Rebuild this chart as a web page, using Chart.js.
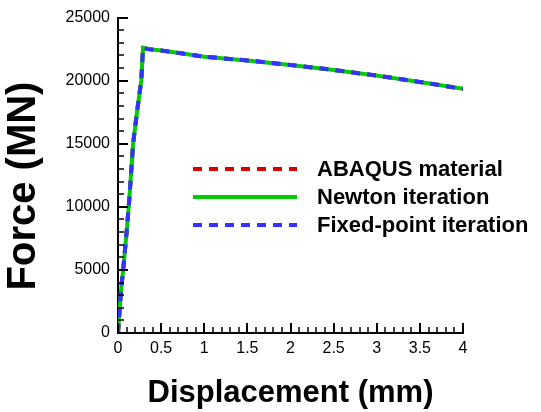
<!DOCTYPE html>
<html><head><meta charset="utf-8">
<script src="https://cdn.jsdelivr.net/npm/chart.js@4/dist/chart.umd.min.js"></script>
<style>html,body{margin:0;padding:0;background:#fff}</style>
</head><body>
<canvas id="c" width="541" height="412"></canvas>
<script>
// Data
const displacement   = [0, 0.035, 0.06, 0.1, 0.13, 0.175, 0.22, 0.27, 0.29, 0.35, 0.5, 0.75, 1.0, 1.5, 2.0, 2.5, 3.0, 3.5, 4.0];
const forceAbaqus    = [0, 3400, 5000, 8000, 10500, 15000, 17500, 20000, 22600, 22500, 22400, 22150, 21900, 21600, 21250, 20850, 20400, 19900, 19350];
const forceNewton    = [0, 3400, 5000, 8000, 10500, 15000, 17500, 20000, 22600, 22500, 22400, 22150, 21900, 21600, 21250, 20850, 20400, 19900, 19350];
const forceFixed     = [0, 3400, 5000, 8000, 10500, 15000, 17500, 20000, 22600, 22500, 22400, 22150, 21900, 21600, 21250, 20850, 20400, 19900, 19350];
const seriesNames    = ['ABAQUS material', 'Newton iteration', 'Fixed-point iteration'];
const xTickLabels    = ['0', '0.5', '1', '1.5', '2', '2.5', '3', '3.5', '4'];
const yTickLabels    = ['0', '5000', '10000', '15000', '20000', '25000'];
const xTitle = 'Displacement (mm)';
const yTitle = 'Force (MN)';

const pts = arr => displacement.map((x, i) => ({x, y: arr[i]}));

const FONT = "'Liberation Sans', Arial, sans-serif";

const innerTicks = {
  id: 'innerTicks',
  afterDraw(chart) {
    const {ctx, scales: {x, y}} = chart;
    ctx.save();
    ctx.strokeStyle = '#000';
    for (let v = 0; v <= 25000; v += 1000) {
      const p = Math.round(y.getPixelForValue(v));
      const major = v % 5000 === 0;
      ctx.lineWidth = major ? 2 : 1.5;
      ctx.beginPath();
      ctx.moveTo(x.left, p);
      ctx.lineTo(x.left + (major ? 10 : 6), p);
      ctx.stroke();
    }
    for (let k = 0; k <= 40; k++) {
      const v = k / 10;
      const p = Math.round(x.getPixelForValue(v));
      const major = k % 5 === 0;
      ctx.lineWidth = major ? 2 : 1.5;
      ctx.beginPath();
      ctx.moveTo(p, y.bottom);
      ctx.lineTo(p, y.bottom - (major ? 10 : 6));
      ctx.stroke();
    }
    ctx.restore();
  }
};

const yAxisTitle = {
  id: 'yAxisTitle',
  afterDraw(chart) {
    const {ctx} = chart;
    ctx.save();
    ctx.translate(24, 186);
    ctx.rotate(-Math.PI / 2);
    ctx.font = "bold 40px " + FONT;
    ctx.textAlign = 'center';
    ctx.textBaseline = 'middle';
    ctx.fillStyle = '#000';
    ctx.fillText(yTitle, 0, 0);
    ctx.restore();
  }
};

const insideLegend = {
  id: 'insideLegend',
  afterDraw(chart) {
    const {ctx} = chart;
    const rows = [169, 197, 225];
    ctx.save();
    ctx.font = "bold 22px " + FONT;
    ctx.textBaseline = 'middle';
    ctx.fillStyle = '#000';
    chart.data.datasets.forEach((ds, i) => {
      const yy = rows[i];
      ctx.strokeStyle = ds.borderColor;
      ctx.lineWidth = ds.borderWidth;
      ctx.setLineDash(ds.borderDash || []);
      ctx.beginPath();
      ctx.moveTo(193, yy);
      ctx.lineTo(297, yy);
      ctx.stroke();
      ctx.setLineDash([]);
      ctx.fillText(ds.label, 317, yy + 1);
    });
    ctx.restore();
  }
};

new Chart(document.getElementById('c'), {
  type: 'line',
  data: {
    datasets: [
      {label: seriesNames[0], data: pts(forceAbaqus), borderColor: '#d40000', borderWidth: 4, borderDash: [9, 7], pointRadius: 0, fill: false, tension: 0, order: 3},
      {label: seriesNames[1], data: pts(forceNewton), borderColor: '#00cc00', borderWidth: 4, pointRadius: 0, fill: false, tension: 0, order: 2},
      {label: seriesNames[2], data: pts(forceFixed), borderColor: '#3333ff', borderWidth: 4, borderDash: [9, 7], pointRadius: 0, fill: false, tension: 0, order: 1}
    ]
  },
  options: {
    responsive: false,
    animation: false,
    devicePixelRatio: 1,
    layout: {padding: {left: 0, right: 78, top: 16, bottom: 0}},
    plugins: {legend: {display: false}, tooltip: {enabled: false}},
    scales: {
      x: {
        type: 'linear', min: 0, max: 4,
        grid: {display: false, drawTicks: false},
        border: {display: true, color: '#000', width: 2},
        ticks: {stepSize: 0.5, color: '#000', padding: 6, font: {family: FONT, size: 16},
          callback: (v) => xTickLabels[Math.round(v * 2)] ?? ''},
        title: {display: true, text: xTitle, color: '#000', font: {family: FONT, size: 31, weight: 'bold'}, padding: {top: 0, bottom: 0}},
        afterFit: s => { s.height = 79; }
      },
      y: {
        type: 'linear', min: 0, max: 25000,
        grid: {display: false, drawTicks: false},
        border: {display: true, color: '#000', width: 2},
        ticks: {stepSize: 5000, color: '#000', padding: 8, font: {family: FONT, size: 16},
          callback: (v) => yTickLabels[Math.round(v / 5000)] ?? ''},
        title: {display: false, text: yTitle},
        afterFit: s => { s.width = 118; }
      }
    }
  },
  plugins: [innerTicks, yAxisTitle, insideLegend]
});
</script>
</body></html>
